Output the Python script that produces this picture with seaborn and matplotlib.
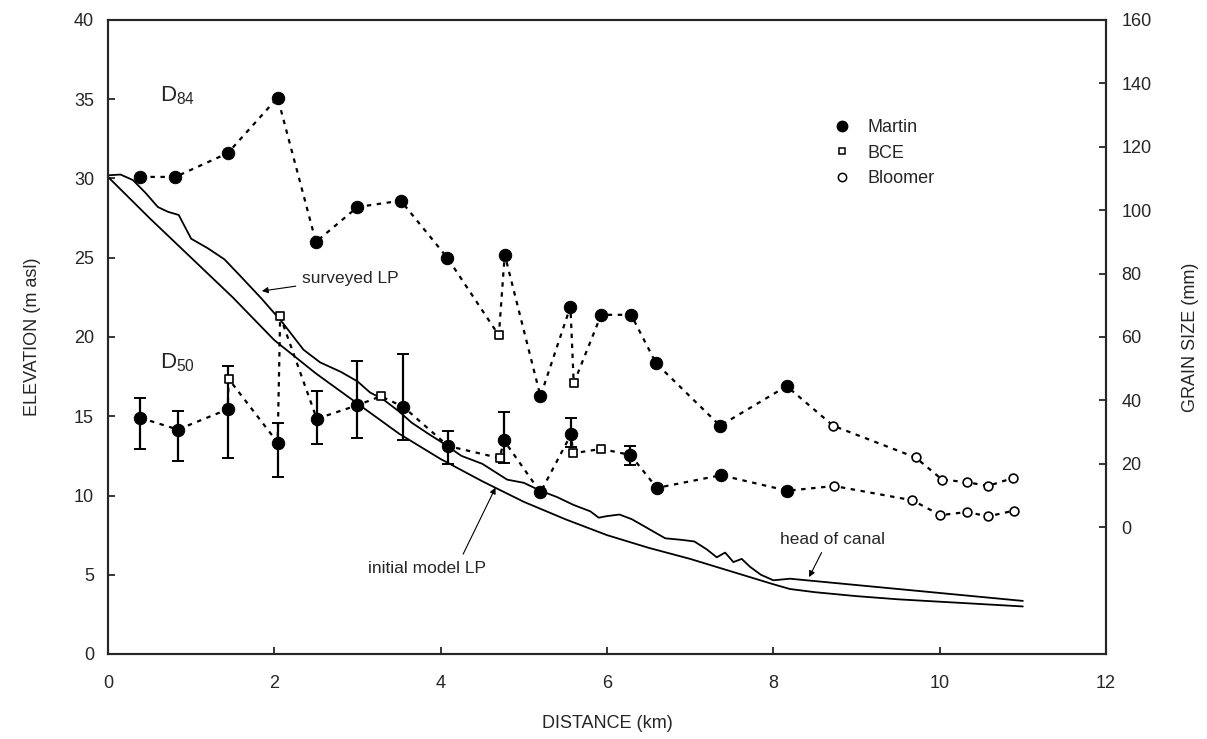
import matplotlib
matplotlib.use('Agg')
import matplotlib.pyplot as plt
from matplotlib.lines import Line2D
import numpy as np
import pandas as pd
import seaborn as sns

sns.set_style('ticks')
plt.rcParams['font.family'] = ['Liberation Sans', 'DejaVu Sans']
plt.rcParams['mathtext.default'] = 'regular'

# longitudinal profiles (elevation, m asl)
init_km = [0, 0.5, 1.0, 1.5, 2.0, 2.5, 3.0, 3.5, 4.0, 4.5, 5.0, 5.5, 6.0, 6.5,
           7.0, 7.5, 8.0, 8.2, 8.5, 9.0, 9.5, 10.0, 10.5, 11.0]
init_elev = [30.1, 27.5, 25.0, 22.5, 19.8, 17.7, 15.8, 13.9, 12.3, 10.9, 9.6, 8.5,
             7.5, 6.7, 6.0, 5.2, 4.4, 4.1, 3.9, 3.65, 3.45, 3.3, 3.15, 3.0]

surv_km = [0, 0.15, 0.3, 0.45, 0.6, 0.72, 0.85, 0.93, 1.0, 1.2, 1.4, 1.6, 1.85,
           2.1, 2.35, 2.55, 2.8, 3.0, 3.15, 3.3, 3.5, 3.65, 3.85, 4.0, 4.25, 4.5,
           4.65, 4.8, 5.0, 5.2, 5.4, 5.6, 5.8, 5.9, 6.0, 6.15, 6.3, 6.5, 6.7, 6.9,
           7.05, 7.2, 7.32, 7.42, 7.52, 7.62, 7.72, 7.85, 8.0, 8.1, 8.2, 8.5, 9.0,
           9.5, 10.0, 10.5, 11.0]
surv_elev = [30.2, 30.25, 29.9, 29.1, 28.2, 27.9, 27.7, 26.9, 26.2, 25.6, 24.9,
             23.8, 22.4, 20.9, 19.2, 18.4, 17.8, 17.2, 16.5, 16.1, 15.3, 14.6, 13.9,
             13.4, 12.5, 12.0, 11.5, 11.0, 10.8, 10.3, 9.9, 9.4, 9.0, 8.6, 8.7, 8.8,
             8.5, 7.9, 7.3, 7.2, 7.1, 6.6, 6.1, 6.4, 5.8, 6.0, 5.5, 5.0, 4.65, 4.7,
             4.75, 4.6, 4.35, 4.1, 3.85, 3.6, 3.35]

# D84 grain size (mm)
d84_martin_km = [0.39, 0.81, 1.44, 2.04, 2.50, 3.00, 3.52, 4.08, 4.77, 5.20, 5.56,
                 5.93, 6.29, 6.59, 7.36, 8.16]
d84_martin_mm = [110.5, 110.5, 118, 135.5, 90, 101, 103, 85, 86, 41.3, 69.6, 67,
                 67, 51.7, 32, 44.5]
d84_bce_km = [4.70, 5.60]
d84_bce_mm = [60.5, 45.4]
d84_bloomer_km = [8.72, 9.71, 10.03, 10.33, 10.58, 10.88]
d84_bloomer_mm = [32, 22, 15, 14.2, 13, 15.5]

# D50 grain size (mm) with ranges
d50_martin_km = [0.39, 0.84, 1.44, 2.04, 2.51, 2.99, 3.55, 4.09, 4.76, 5.20, 5.57,
                 6.28, 6.60, 7.37, 8.17]
d50_martin_mm = [34.5, 30.8, 37.2, 26.7, 34.2, 38.4, 38.0, 25.6, 27.4, 11.0, 29.4,
                 22.8, 12.4, 16.4, 11.5]
d50_err_km = [0.39, 0.84, 1.44, 2.04, 2.51, 2.99, 3.55, 4.09, 4.76, 5.57, 6.28]
d50_err_mid = [34.5, 30.8, 37.2, 26.7, 34.2, 38.4, 38.0, 25.6, 27.4, 29.4, 22.8]
d50_err_lo = [24.8, 20.8, 21.8, 15.8, 26.2, 28.2, 27.5, 20.0, 20.2, 25.4, 19.6]
d50_err_hi = [40.8, 36.8, 51.0, 32.8, 42.9, 52.4, 54.6, 30.4, 36.4, 34.4, 25.6]
d50_bce_km = [1.45, 2.07, 3.28, 4.71, 5.59, 5.93]
d50_bce_mm = [46.8, 66.6, 41.3, 21.8, 23.3, 24.7]
d50_bloomer_km = [8.73, 9.67, 10.01, 10.33, 10.58, 10.89]
d50_bloomer_mm = [13, 8.5, 3.8, 4.8, 3.4, 5.2]

W, H = 1207, 739
fig = plt.figure(figsize=(W / 100, H / 100), dpi=100)
ax = fig.add_axes([108 / W, 1 - 654 / H, 998 / W, 634 / H])
ax2 = ax.twinx()

# profiles on elevation axis
sns.lineplot(x=init_km, y=init_elev, ax=ax, color='black', lw=1.3,
             estimator=None, sort=False)
sns.lineplot(x=surv_km, y=surv_elev, ax=ax, color='black', lw=1.3,
             estimator=None, sort=False)

dot = (0, (2, 2.5))
d84 = pd.DataFrame({'km': d84_martin_km + d84_bce_km + d84_bloomer_km,
                    'mm': d84_martin_mm + d84_bce_mm + d84_bloomer_mm}).sort_values('km')
d50 = pd.DataFrame({'km': d50_martin_km + d50_bce_km + d50_bloomer_km,
                    'mm': d50_martin_mm + d50_bce_mm + d50_bloomer_mm}).sort_values('km')
for df in (d84, d50):
    sns.lineplot(data=df, x='km', y='mm', ax=ax2, color='black', lw=1.6,
                 linestyle=dot, estimator=None, sort=False)

yerr = [np.array(d50_err_mid) - np.array(d50_err_lo),
        np.array(d50_err_hi) - np.array(d50_err_mid)]
ax2.errorbar(d50_err_km, d50_err_mid, yerr=yerr, fmt='none', ecolor='black',
             elinewidth=1.6, capsize=4.5, capthick=1.4, zorder=3)

for km, mm in ((d84_martin_km, d84_martin_mm), (d50_martin_km, d50_martin_mm)):
    sns.scatterplot(x=km, y=mm, ax=ax2, marker='o', s=80, color='black',
                    edgecolor='black', zorder=4)
for km, mm in ((d84_bce_km, d84_bce_mm), (d50_bce_km, d50_bce_mm)):
    sns.scatterplot(x=km, y=mm, ax=ax2, marker='s', s=34, color='white',
                    edgecolor='black', linewidth=1.2, zorder=4)
for km, mm in ((d84_bloomer_km, d84_bloomer_mm), (d50_bloomer_km, d50_bloomer_mm)):
    sns.scatterplot(x=km, y=mm, ax=ax2, marker='o', s=40, color='white',
                    edgecolor='black', linewidth=1.2, zorder=4)

# axes
ax.set_xlim(0, 12)
ax.set_ylim(0, 40)
ax.set_xticks(np.arange(0, 13, 2))
ax.set_yticks(np.arange(0, 41, 5))
ax2.set_ylim(-40, 160)
ax2.set_yticks(np.arange(0, 161, 20))
for a in (ax, ax2):
    for s in a.spines.values():
        s.set_linewidth(1.5)
        s.set_visible(True)
    a.tick_params(direction='in', length=5, width=1.3, labelsize=13)
ax.tick_params(axis='x', pad=15)
ax.tick_params(axis='y', pad=10)
ax2.tick_params(axis='y', pad=11)

ax.set_xlabel('DISTANCE (km)', fontsize=13, labelpad=17)
ax.set_ylabel('ELEVATION (m asl)', fontsize=13, labelpad=24)
ax2.set_ylabel('GRAIN SIZE (mm)', fontsize=13, labelpad=22)

# annotations
ax.text(0.62, 34.85, r'D$_{84}$', fontsize=16, va='baseline')
ax.text(0.62, 18.05, r'D$_{50}$', fontsize=16, va='baseline')
ax.annotate('surveyed LP', xy=(1.85, 22.9), xytext=(2.33, 23.7), fontsize=12.5,
            va='center',
            arrowprops=dict(arrowstyle='-|>', color='black', lw=0.8,
                            mutation_scale=9, shrinkA=2, shrinkB=0))
ax.annotate('', xy=(4.66, 10.5), xytext=(4.27, 6.3),
            arrowprops=dict(arrowstyle='-|>', color='black', lw=0.8,
                            mutation_scale=9, shrinkA=0, shrinkB=0))
ax.text(3.125, 5.4, 'initial model LP', fontsize=12.5, va='center')
ax.annotate('head of canal', xy=(8.43, 4.85), xytext=(8.08, 7.2), fontsize=12.5,
            va='center')
ax.annotate('', xy=(8.43, 4.85), xytext=(8.58, 6.4),
            arrowprops=dict(arrowstyle='-|>', color='black', lw=0.8,
                            mutation_scale=9, shrinkA=0, shrinkB=0))

handles = [
    Line2D([], [], ls='none', marker='o', ms=7.5, color='black', label='Martin'),
    Line2D([], [], ls='none', marker='s', ms=5, mfc='white', mec='black',
           mew=1.1, label='BCE'),
    Line2D([], [], ls='none', marker='o', ms=6, mfc='white', mec='black',
           mew=1.1, label='Bloomer'),
]
ax2.legend(handles=handles, loc='upper left', bbox_to_anchor=(0.7265, 0.844),
           frameon=False, fontsize=13, handlelength=1.0, handletextpad=0.9,
           labelspacing=0.48, borderpad=0, borderaxespad=0)

fig.savefig('out.png', dpi=100)
